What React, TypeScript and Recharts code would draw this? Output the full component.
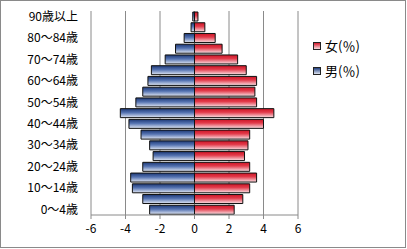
import React from "react";
import { BarChart, Bar, XAxis, YAxis, CartesianGrid, Legend } from "recharts";

const ageGroups = [
  "0〜4歳", "5〜9歳", "10〜14歳", "15〜19歳", "20〜24歳", "25〜29歳", "30〜34歳",
  "35〜39歳", "40〜44歳", "45〜49歳", "50〜54歳", "55〜59歳", "60〜64歳", "65〜69歳",
  "70〜74歳", "75〜79歳", "80〜84歳", "85〜89歳", "90歳以上",
];
const maleValues = [
  -2.6, -3.0, -3.6, -3.7, -3.0, -2.4, -2.6, -3.1, -3.8, -4.3,
  -3.4, -3.0, -2.7, -2.5, -1.7, -1.1, -0.6, -0.2, -0.1,
];
const femaleValues = [
  2.3, 2.8, 3.2, 3.6, 3.2, 2.9, 3.1, 3.2, 4.0, 4.6,
  3.6, 3.5, 3.6, 3.0, 2.5, 1.6, 1.2, 0.6, 0.2,
];
const xTicks = [-6, -4, -2, 0, 2, 4, 6];
const maleLabel = "男(％)";
const femaleLabel = "女(％)";

const data = ageGroups.map((age, i) => ({
  age,
  male: maleValues[i],
  female: femaleValues[i],
}));

const FONT = "'Noto Sans CJK JP', 'Noto Sans', sans-serif";

const renderLegend = () => {
  const items = [
    { label: femaleLabel, a: "#d41a2c", b: "#f8dde1" },
    { label: maleLabel, a: "#213f7e", b: "#dfe5f2" },
  ];
  return (
    <div style={{ fontFamily: FONT, fontSize: 13, color: "#000" }}>
      {items.map((it) => (
        <div key={it.label} style={{ display: "flex", alignItems: "center", height: 25 }}>
          <span
            style={{
              display: "inline-block",
              width: 6,
              height: 6,
              border: "1px solid #222",
              background: `linear-gradient(${it.a}, ${it.b})`,
              marginRight: 4,
            }}
          />
          <span>{it.label}</span>
        </div>
      ))}
    </div>
  );
};

export default function App() {
  return (
    <div style={{ position: "absolute", left: 0, top: 0, width: 407, height: 249, background: "#fff" }}>
      <div
        style={{
          position: "absolute",
          left: 0,
          top: 0,
          width: 404,
          height: 246,
          border: "1px solid #8a8a8a",
        }}
      />
      <div style={{ position: "absolute", left: 0, top: 0 }}>
        <BarChart
          width={407}
          height={249}
          data={data}
          layout="vertical"
          stackOffset="sign"
          barCategoryGap={1}
          margin={{ top: 11, right: 15, bottom: 0, left: 0 }}
        >
          <defs>
            <linearGradient id="blueGrad" x1="0" y1="0" x2="0" y2="1">
              <stop offset="0%" stopColor="#1c3774" />
              <stop offset="45%" stopColor="#5674b2" />
              <stop offset="100%" stopColor="#e2e8f4" />
            </linearGradient>
            <linearGradient id="redGrad" x1="0" y1="0" x2="0" y2="1">
              <stop offset="0%" stopColor="#cc1526" />
              <stop offset="40%" stopColor="#e23a4a" />
              <stop offset="100%" stopColor="#fae2e6" />
            </linearGradient>
          </defs>
          <CartesianGrid horizontal={false} vertical stroke="#8a8a8a" />
          <XAxis
            type="number"
            domain={[-6, 6]}
            ticks={xTicks}
            interval={0}
            height={34}
            stroke="#8a8a8a"
            tickSize={4}
            tickMargin={5}
            tick={{ fill: "#000", fontSize: 12, fontFamily: FONT }}
          />
          <YAxis
            type="category"
            dataKey="age"
            reversed
            width={91}
            interval={1}
            axisLine={false}
            tickLine={false}
            tickSize={6}
            tickMargin={7}
            tick={{ fill: "#000", fontSize: 12, fontFamily: FONT }}
          />
          <Legend
            layout="vertical"
            align="right"
            verticalAlign="top"
            content={renderLegend}
            wrapperStyle={{ left: 313, top: 33, right: "auto", width: 94 }}
          />
          <Bar
            dataKey="male"
            name={maleLabel}
            stackId="a"
            fill="url(#blueGrad)"
            stroke="#111"
            strokeWidth={1}
            isAnimationActive={false}
          />
          <Bar
            dataKey="female"
            name={femaleLabel}
            stackId="a"
            fill="url(#redGrad)"
            stroke="#111"
            strokeWidth={1}
            isAnimationActive={false}
          />
        </BarChart>
      </div>
    </div>
  );
}
